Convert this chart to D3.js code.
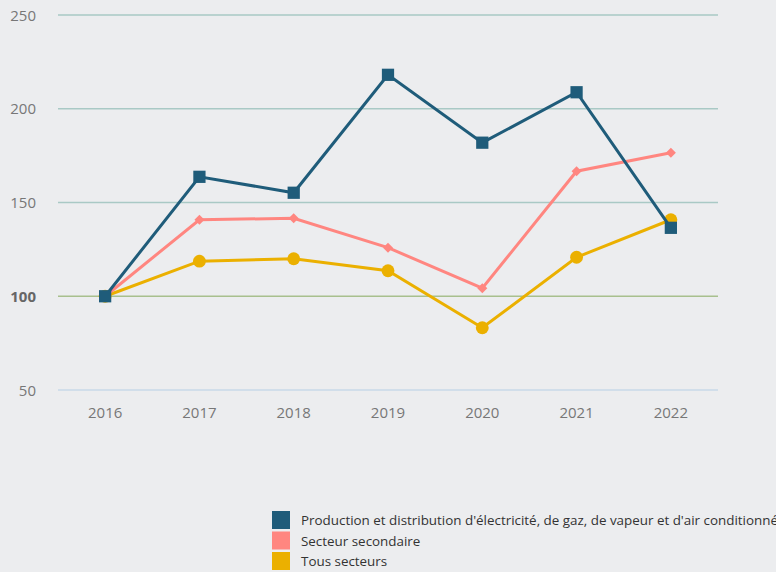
<!DOCTYPE html>
<html>
<head>
<meta charset="utf-8">
<script src="https://cdn.jsdelivr.net/npm/d3@7"></script>
<style>
  body { margin: 0; background: #ecedef; }
  svg { display: block; font-family: "Open Sans", "Noto Sans", sans-serif; }
</style>
</head>
<body>
<svg id="chart" width="776" height="572"></svg>
<script>
var years = ["2016", "2017", "2018", "2019", "2020", "2021", "2022"];
var energie = [100, 163.7, 155.2, 218.1, 181.9, 208.8, 136.5];
var secondaire = [100, 140.8, 141.6, 125.9, 104.3, 166.7, 176.5];
var tous = [100, 118.7, 120, 113.6, 83.2, 120.8, 140.8];
var yTicks = [50, 100, 150, 200, 250];
var names = ["Production et distribution d'électricité, de gaz, de vapeur et d'air conditionné",
  "Secteur secondaire", "Tous secteurs"];
var colors = ["#1f5c7a", "#ff8680", "#ebb000"];

var series = [
  {name: names[0], values: energie, color: colors[0], symbol: d3.symbolSquare, size: 150, rot: 0},
  {name: names[1], values: secondaire, color: colors[1], symbol: d3.symbolSquare, size: 50, rot: 45},
  {name: names[2], values: tous, color: colors[2], symbol: d3.symbolCircle, size: 130, rot: 0}
];

var svg = d3.select("#chart");

var x = d3.scaleBand().domain(years).range([58, 718]);
var y = d3.scaleLinear().domain([50, 250]).range([390, 15]);

// grid lines
svg.append("g").selectAll("line").data(yTicks).enter().append("line")
  .attr("x1", 58).attr("x2", 718)
  .attr("y1", function (d) { return y(d); })
  .attr("y2", function (d) { return y(d); })
  .attr("stroke", function (d) { return d == 50 ? "#c9d8e8" : (d == 100 ? "#a8c08e" : "#a9c9c5"); })
  .attr("stroke-width", 1.5);

// y labels
svg.append("g").selectAll("text").data(yTicks).enter().append("text")
  .attr("x", 36).attr("y", function (d) { return y(d) + 5.5; })
  .attr("text-anchor", "end")
  .attr("font-size", 15)
  .attr("font-weight", function (d) { return d == 100 ? "bold" : "normal"; })
  .attr("fill", function (d) { return d == 100 ? "#666" : "#777"; })
  .text(function (d) { return d; });

// x labels
svg.append("g").selectAll("text").data(years).enter().append("text")
  .attr("x", function (d) { return x(d) + x.bandwidth() / 2; })
  .attr("y", 418)
  .attr("text-anchor", "middle")
  .attr("font-size", 15)
  .attr("fill", "#777")
  .text(function (d) { return d; });

var line = d3.line()
  .x(function (d, i) { return x(years[i]) + x.bandwidth() / 2; })
  .y(function (d) { return y(d); });

// draw back to front: yellow, pink, blue
series.slice().reverse().forEach(function (s) {
  var g = svg.append("g");
  g.append("path").datum(s.values)
    .attr("d", line)
    .attr("fill", "none")
    .attr("stroke", s.color)
    .attr("stroke-width", 3);
  g.selectAll("path.pt").data(s.values).enter().append("path")
    .attr("class", "pt")
    .attr("d", d3.symbol().type(s.symbol).size(s.size))
    .attr("transform", function (d, i) {
      return "translate(" + (x(years[i]) + x.bandwidth() / 2) + "," + y(d) + ") rotate(" + s.rot + ")";
    })
    .attr("fill", s.color);
});

// legend
var legend = svg.append("g").attr("transform", "translate(272,511)");
var items = legend.selectAll("g").data(series).enter().append("g")
  .attr("transform", function (d, i) { return "translate(0," + (i * 20.5) + ")"; });
items.append("rect").attr("width", 18).attr("height", 18)
  .attr("fill", function (d) { return d.color; });
items.append("text").attr("x", 29).attr("y", 14)
  .attr("font-size", 13.4).attr("fill", "#333")
  .text(function (d) { return d.name; });
</script>
</body>
</html>
